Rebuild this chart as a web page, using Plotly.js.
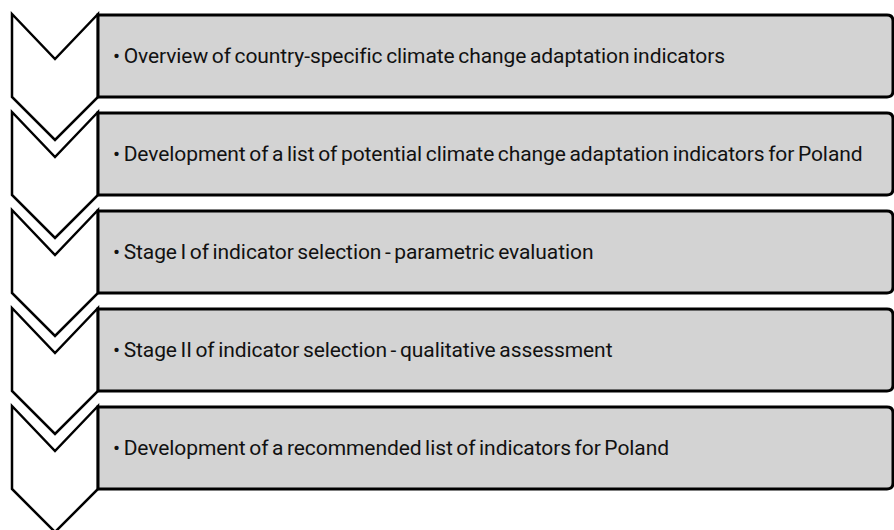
<!DOCTYPE html>
<html><head><meta charset="utf-8">
<script src="https://cdn.plot.ly/plotly-3.0.1.min.js"></script>
<style>
html,body{margin:0;padding:0;background:#fff;}
.annotation-text{letter-spacing:-0.08px;word-spacing:-1.5px;}
</style>
</head><body>
<div id="chart" style="width:894px;height:530px;"></div>
<script>
const steps = [
  "• Overview of country-specific climate change adaptation indicators",
  "• Development of a list of potential climate change adaptation indicators for Poland",
  "• Stage I of indicator selection - parametric evaluation",
  "• Stage II of indicator selection - qualitative assessment",
  "• Development of a recommended list of indicators for Poland"
];
const stepIndex = [0, 1, 2, 3, 4];

const G = {top0: 14, pitch: 98, chevL: 12, chevM: 55, chevR: 98, notch: 45, h: 83, tip: 126, boxR: 893, r: 6, textX: 111};

const shapes = [];
const annotations = [];
stepIndex.forEach(i => {
  const t = G.top0 + G.pitch * i;
  shapes.push({
    type: 'path', xref: 'x', yref: 'y',
    path: `M${G.chevL},${t} L${G.chevM},${t+G.notch} L${G.chevR},${t} L${G.chevR},${t+G.h} L${G.chevM},${t+G.tip} L${G.chevL},${t+G.h} Z`,
    fillcolor: '#ffffff', line: {color: '#000000', width: 2.5}, layer: 'above'
  });
  const y0 = t + 1, y1 = t + G.h;
  shapes.push({
    type: 'path', xref: 'x', yref: 'y',
    path: `M${G.chevR},${y0} L${G.boxR-G.r},${y0} Q${G.boxR},${y0} ${G.boxR},${y0+G.r} L${G.boxR},${y1-G.r} Q${G.boxR},${y1} ${G.boxR-G.r},${y1} L${G.chevR},${y1} Z`,
    fillcolor: '#d3d3d3', line: {color: '#000000', width: 3}, layer: 'above'
  });
  annotations.push({
    x: G.textX, y: (y0 + y1) / 2, xref: 'x', yref: 'y',
    text: steps[i], showarrow: false, xanchor: 'left', yanchor: 'middle',
    font: {family: 'Roboto, sans-serif', size: 21, color: '#111111'}
  });
});

Plotly.newPlot('chart', [], {
  width: 894, height: 530,
  margin: {l: 0, r: 0, t: 0, b: 0},
  paper_bgcolor: '#ffffff', plot_bgcolor: '#ffffff',
  xaxis: {range: [0, 894], visible: false, fixedrange: true},
  yaxis: {range: [530, 0], visible: false, fixedrange: true},
  shapes: shapes, annotations: annotations, showlegend: false
}, {staticPlot: true, displayModeBar: false});
</script>
</body></html>
